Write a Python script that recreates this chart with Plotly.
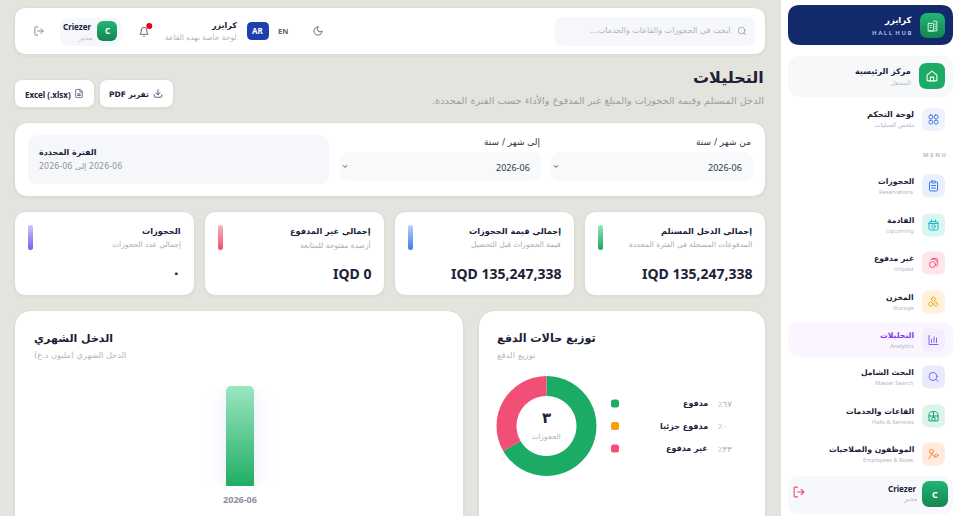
import base64
import re
import plotly.graph_objects as go

W, H = 960, 516
FONT = "Noto Sans, sans-serif"
AR_FONT = "DejaVu Sans, sans-serif"
DARK = "#1b2138"
GRAY = "#a3a8b3"

# ---- data
months = ["2026-06"]
monthly_income_millions = [135.247338]

pay_labels = ["مدفوع", "مدفوع جزئيا", "غير مدفوع"]
pay_counts = [2, 0, 1]
pay_percent_text = ["٦٧٪", "٠٪", "٣٣٪"]
pay_colors = ["#1cab65", "#f59e0b", "#f24f76"]
total_bookings_text = "٣"

kpi_titles = ["إجمالي الدخل المستلم", "إجمالي قيمة الحجوزات", "إجمالي غير المدفوع", "الحجوزات"]
kpi_subs = ["المدفوعات المسجلة في الفترة المحددة", "قيمة الحجوزات قبل التحصيل", "أرصدة مفتوحة للمتابعة", "إجمالي عدد الحجوزات"]
kpi_values = ["IQD 135,247,338", "IQD 135,247,338", "IQD 0", "٠"]
kpi_pills = [("#9be3bd", "#1fa463"), ("#b9d2fb", "#3f7cea"), ("#f9b3c2", "#ee4f70"), ("#cfc2fb", "#7c5cf0")]
kpi_lefts = [585, 395, 205, 15]

nav_titles = ["الحجوزات", "القادمة", "غير مدفوع", "المخزن", "التحليلات", "البحث الشامل", "القاعات والخدمات", "الموظفون والصلاحيات"]
nav_subs = ["Reservations", "Upcoming", "Unpaid", "Storage", "Analytics", "Master Search", "Halls & Services", "Employees & Roles"]
nav_icon_y = [186, 225, 263, 302, 340, 377, 416, 454]
nav_bg = ["#e9effd", "#daf6f3", "#fde5eb", "#fef3d8", "#f3eefd", "#ebe9fe", "#dcf4ec", "#ffebdd"]
nav_fg = ["#3f7cea", "#14b8c4", "#ee4f70", "#eda00f", "#8b5cf6", "#6d6af0", "#14a37f", "#f08a3c"]

ICONS = {
    "home": '<path d="M3 10.5 12 3l9 7.5V20a1 1 0 0 1-1 1H4a1 1 0 0 1-1-1Z"/><path d="M9 21v-7h6v7"/>',
    "search": '<circle cx="11" cy="11" r="8"/><path d="m21 21-4.3-4.3"/>',
    "moon": '<path d="M12 3a6 6 0 0 0 9 9 9 9 0 1 1-9-9Z"/>',
    "bell": '<path d="M6 8a6 6 0 0 1 12 0c0 7 3 9 3 9H3s3-2 3-9"/><path d="M10.3 21a1.94 1.94 0 0 0 3.4 0"/>',
    "logout": '<path d="M9 21H5a2 2 0 0 1-2-2V5a2 2 0 0 1 2-2h4"/><path d="m16 17 5-5-5-5"/><path d="M21 12H9"/>',
    "download": '<path d="M21 15v4a2 2 0 0 1-2 2H5a2 2 0 0 1-2-2v-4"/><path d="m7 10 5 5 5-5"/><path d="M12 15V3"/>',
    "file": '<path d="M14 2H6a2 2 0 0 0-2 2v16a2 2 0 0 0 2 2h12a2 2 0 0 0 2-2V8z"/><path d="M14 2v6h6"/><path d="M8 13h8M8 17h8M12 13v4"/>',
    "grid": '<rect x="3" y="3" width="7.5" height="7.5" rx="3"/><rect x="13.5" y="3" width="7.5" height="7.5" rx="3"/><rect x="3" y="13.5" width="7.5" height="7.5" rx="3"/><rect x="13.5" y="13.5" width="7.5" height="7.5" rx="3"/>',
    "clipboard": '<path d="M8 4H6a2 2 0 0 0-2 2v14a2 2 0 0 0 2 2h12a2 2 0 0 0 2-2V6a2 2 0 0 0-2-2h-2"/><rect x="8" y="2" width="8" height="4" rx="1"/><path d="M8 11h8M8 16h8"/>',
    "calendar": '<rect x="3" y="5" width="18" height="17" rx="3"/><path d="M8 2v4M16 2v4M3 9h18"/><circle cx="12" cy="15" r="3.5"/>',
    "coin": '<circle cx="10" cy="15" r="6"/><path d="M7 4.5a9 9 0 0 1 11 3 9 9 0 0 1 1 10.5"/><path d="M10 3h6a5 5 0 0 1 5 5"/>',
    "boxes": '<path d="M12 2 16.5 6.5 12 11 7.500 6.500Z"/><path d="M7 12l4.500 4.500L7 21l-4.500-4.500Z"/><path d="M17 12l4.500 4.500L17 21l-4.500-4.500Z"/>',
    "bars": '<path d="M3 3v18h18"/><path d="M8 17v-6M13 17V6M18 17v-9"/>',
    "hall": '<path d="M3 21V10a9 7 0 0 1 18 0v11Z"/><path d="M9 21v-6h6v6M12 4v11M3 12h18"/>',
    "roles": '<circle cx="8" cy="7" r="4"/><path d="M3 21 9 11M9 11l6 8"/><circle cx="18" cy="15" r="3"/>',
    "building": '<rect x="4" y="8" width="10" height="14" rx="1"/><path d="M14 4h5a1 1 0 0 1 1 1v17H4M8 12h2M8 16h2M17 9v1M17 13v1M17 17v1"/>',
    "chev": '<path d="m6 9 6 6 6-6"/>',
}


def px(x):
    return x / W


def py(y):
    return 1 - y / H


def rr(x0, y0, x1, y1, r):
    """rounded rectangle path, in paper fractions, from pixel corners"""
    rx, ry = r / W, r / H
    a, b, c, d = px(x0), px(x1), py(y0), py(y1)
    return (f"M{a + rx},{c} L{b - rx},{c} Q{b},{c} {b},{c - ry} L{b},{d + ry} Q{b},{d} {b - rx},{d} "
            f"L{a + rx},{d} Q{a},{d} {a},{d + ry} L{a},{c - ry} Q{a},{c} {a + rx},{c} Z")


shapes, annotations, images = [], [], []


def box(x0, y0, x1, y1, r, fill, line=None):
    shapes.append(dict(type="path", xref="paper", yref="paper", path=rr(x0, y0, x1, y1, r),
                       fillcolor=fill, line=dict(width=1 if line else 0, color=line or fill), layer="below"))


def card(x0, y0, x1, y1, r):
    box(x0 - 2, y0 - 1, x1 + 2, y1 + 3, r + 2, "rgba(120,125,120,0.05)")
    box(x0, y0, x1, y1, r, "#ffffff")


def text(x, y, s, size=9, color=DARK, bold=False, anchor="right"):
    arabic = re.search("[\u0600-\u06ff]", s) is not None
    shown = "\u202b" + s + "\u202c" if arabic else s
    nudge = 1 if anchor == "right" else 0
    annotations.append(dict(xref="paper", yref="paper", x=px(x + nudge), y=py(y), text=shown, showarrow=False,
                            xanchor=anchor, yanchor="middle", borderpad=0,
                            font=dict(family=AR_FONT if arabic else FONT, size=size, color=color,
                                      weight=700 if bold else 400)))


def image(svg, x0, y0, x1, y1):
    src = "data:image/svg+xml;base64," + base64.b64encode(svg.encode()).decode()
    images.append(dict(source=src, xref="paper", yref="paper", x=px(x0), y=py(y0),
                       sizex=(x1 - x0) / W, sizey=(y1 - y0) / H, xanchor="left", yanchor="top",
                       sizing="stretch", layer="above"))


def icon(name, cx, cy, size, color, sw=2):
    svg = (f'<svg xmlns="http://www.w3.org/2000/svg" width="48" height="48" viewBox="0 0 24 24" fill="none" '
           f'stroke="{color}" stroke-width="{sw}" stroke-linecap="round" stroke-linejoin="round">{ICONS[name]}</svg>')
    image(svg, cx - size / 2, cy - size / 2, cx + size / 2, cy + size / 2)


def grad_box(x0, y0, x1, y1, r, top, bottom):
    w, h = x1 - x0, y1 - y0
    svg = (f'<svg xmlns="http://www.w3.org/2000/svg" width="{w*4}" height="{h*4}" viewBox="0 0 {w} {h}">'
           f'<defs><linearGradient id="g" x1="0" y1="0" x2="0" y2="1"><stop offset="0" stop-color="{top}"/>'
           f'<stop offset="1" stop-color="{bottom}"/></linearGradient></defs>'
           f'<rect width="{w}" height="{h}" rx="{r}" fill="url(#g)"/></svg>')
    image(svg, x0, y0, x1, y1)


# ---- sidebar
shapes.append(dict(type="rect", xref="paper", yref="paper", x0=px(781), x1=1, y0=0, y1=1,
                   fillcolor="#ffffff", line=dict(width=0), layer="below"))
box(788, 5, 953, 45, 12, "#122a6b")
grad_box(920, 13, 945, 38, 7, "#22b573", "#14864f")
icon("building", 932.5, 25.5, 13, "#e8fff3", 1.7)
text(912, 20.5, "كرايزر", 8.5, "#ffffff", True)
text(912, 33, "H A L L  H U B", 6, "#a9b8e6", True)

box(788, 56, 953, 97, 13, "#f6f8fa")
box(919, 63, 945, 89, 8, "#1cab65")
icon("home", 932, 76, 13, "#ffffff")
text(911, 71.5, "مركز الرئيسية", 8, DARK, True)
text(911, 82.5, "المشغل", 6, "#b5b9c2")

box(922, 108, 945, 131, 7, "#eef2fd")
icon("grid", 933.5, 119.5, 12, "#3f6fd8")
text(914, 114.5, "لوحة التحكم", 8, DARK, True)
text(914, 125, "ملخص العمليات", 6, "#b5b9c2")
text(947, 155, "M E N U", 6, "#b5b9c2", True)

nav_icons = ["clipboard", "calendar", "coin", "boxes", "bars", "search", "hall", "roles"]
box(788, 322, 953, 357, 12, "#faf5fe")
for i, title in enumerate(nav_titles):
    yc = nav_icon_y[i]
    box(922, yc - 11.5, 945, yc + 11.5, 7, nav_bg[i])
    icon(nav_icons[i], 933.5, yc, 12, nav_fg[i])
    text(914, yc - 4.5, title, 7.7, "#7c3aed" if i == 4 else DARK, True)
    text(914, yc + 5.5, nav_subs[i], 5.7, "#b5b9c2")

box(788, 476, 953, 514, 12, "#f6f8fb")
grad_box(922, 481, 948, 507, 7, "#22b573", "#14864f")
text(935, 494, "C", 9, "#ffffff", True, "center")
text(917, 488, "Criezer", 8, DARK, True)
text(917, 499, "مدير", 7, "#b5b9c2")
icon("logout", 799, 492, 13, "#e8476f")

# ---- top bar
card(15, 8, 765, 54, 12)
box(554, 17, 755, 46, 10, "#f5f7fa")
icon("search", 742, 31, 10, "#9aa0ac")
text(730, 31, "ابحث في الحجوزات والقاعات والخدمات...", 8, "#aeb3bd")
icon("moon", 318, 31, 11, "#5a6072")
text(283, 31, "EN", 7.5, "#5a6072", True, "center")
box(247, 22, 269, 40, 5, "#1e3fae")
text(258, 31, "AR", 8, "#ffffff", True, "center")
text(237, 26, "كرايزر", 8, DARK, True)
text(237, 37.5, "لوحة خاصة بهذه القاعة", 7.5, "#aeb3bd")
icon("bell", 144, 32, 11, "#5a6072")
shapes.append(dict(type="circle", xref="paper", yref="paper", x0=px(146.3), x1=px(152.3), y0=py(23), y1=py(29),
                   fillcolor="#e3001b", line=dict(width=0), layer="above"))
box(60, 18, 122, 46, 9, "#f5f7fa")
grad_box(97, 21, 117, 41, 6, "#22b573", "#14864f")
text(107, 31, "C", 8, "#ffffff", True, "center")
text(92, 27, "Criezer", 8, DARK, True)
text(92, 38, "مدير", 7, "#b5b9c2")
icon("logout", 39, 31, 11, "#7a8090")

# ---- page heading
text(764, 77, "التحليلات", 16, DARK, True)
text(764, 100, "الدخل المستلم وقيمة الحجوزات والمبلغ غير المدفوع والأداء حسب الفترة المحددة.", 9.75, "#9b9e9f")
card(15, 80, 94, 107, 8)
card(100, 80, 173, 107, 8)
text(47.5, 94, "Excel (.xlsx)", 8, DARK, True, "center")
icon("file", 79, 93.5, 10, "#5a6072")
text(129, 94, "تقرير PDF", 7.5, DARK, True, "center")
icon("download", 158, 93.5, 10, "#3a4052")

# ---- filter card
card(15, 123, 765, 196, 14)
box(28, 135, 329, 184, 10, "#f5f7fb")
text(38, 152, "الفترة المحددة", 8, DARK, True, "left")
text(38, 167, "2026-06 إلى 06-2026", 8, "#8f94a0", False, "left")
for right, label in [(751, "من شهر / سنة"), (540, "إلى شهر / سنة")]:
    text(right, 142, label, 9, "#30364a")
for x0, x1 in [(551, 753), (340, 541)]:
    box(x0, 152, x1, 181, 9, "#f7f9fb")
    text(x1 - 11, 167, "2026-06", 9, "#30364a")
    icon("chev", x0 + 5, 166.5, 7, "#30364a", 3)

# ---- KPI cards
for i, left in enumerate(kpi_lefts):
    right = left + 180 if left == 585 else left + 179
    card(left, 212, right, 295, 12)
    grad_box(left + 13, 225, left + 18, 250, 2.5, *kpi_pills[i])
    text(right - 13, 231, kpi_titles[i], 8.2, DARK, True)
    text(right - 13, 245, kpi_subs[i], 7.5, "#a9adb7")
    text(right - 13, 273, kpi_values[i], 14, DARK, True)

# ---- chart cards
card(15, 311, 463, 540, 18)
card(479, 311, 765, 540, 18)
text(33, 338, "الدخل الشهري", 11, DARK, True, "left")
text(33, 355, "الدخل الشهري (مليون د.ع)", 8.2, "#b3b7c0", False, "left")
text(496, 338, "توزيع حالات الدفع", 11.2, DARK, True, "left")
text(496, 355, "توزيع الدفع", 8.5, "#b3b7c0", False, "left")

text(546.5, 418, total_bookings_text, 15, DARK, True, "center")
text(546.5, 437, "الحجوزات", 7, "#a9adb7", False, "center")
legend_y = [403.5, 426, 448.5]
for i, label in enumerate(pay_labels):
    box(611, legend_y[i] - 4, 619, legend_y[i] + 4, 2.5, pay_colors[i])
    text(708, legend_y[i], label, 8, DARK, True)
    text(717, legend_y[i], pay_percent_text[i], 8.5, "#a9adb7", False, "left")

fig = go.Figure()
fig.add_trace(go.Bar(x=months, y=monthly_income_millions, width=28 / 414, marker=dict(color="#5fcb92", line=dict(width=0)),
                     hoverinfo="skip", showlegend=False))
fig.add_trace(go.Pie(labels=pay_labels, values=pay_counts, hole=0.6, sort=False, direction="clockwise", rotation=0,
                     marker=dict(colors=pay_colors, line=dict(width=0)), textinfo="none", showlegend=False,
                     hoverinfo="skip", domain=dict(x=[px(496.5), px(596.5)], y=[py(476), py(376)])))
fig.update_layout(
    width=W, height=H, margin=dict(l=0, r=0, t=0, b=0), paper_bgcolor="#e4e4df", plot_bgcolor="rgba(0,0,0,0)",
    barcornerradius=5, showlegend=False, font=dict(family=FONT),
    xaxis=dict(domain=[px(33), px(447)], type="category", showgrid=False, zeroline=False, showline=False,
               ticks="", tickfont=dict(family=FONT, size=9, color="#8b909c", weight=700), ticklabelstandoff=7),
    yaxis=dict(domain=[py(486), py(386)], range=[0, monthly_income_millions[0]], visible=False, fixedrange=True),
    shapes=shapes, annotations=annotations, images=images,
)

post = """
document.body.style.margin='0';
document.documentElement.style.overflow='hidden';
var gd=document.getElementById('{plot_id}');
var svg=gd.querySelector('svg.main-svg');
var ns='http://www.w3.org/2000/svg';
var defs=document.createElementNS(ns,'defs');
var lg=document.createElementNS(ns,'linearGradient');
lg.setAttribute('id','barGrad');lg.setAttribute('x1','0');lg.setAttribute('y1','0');lg.setAttribute('x2','0');lg.setAttribute('y2','1');
[['0','#9be6c2'],['1','#1fae62']].forEach(function(s){var st=document.createElementNS(ns,'stop');st.setAttribute('offset',s[0]);st.setAttribute('stop-color',s[1]);lg.appendChild(st);});
defs.appendChild(lg);svg.insertBefore(defs,svg.firstChild);
gd.querySelectorAll('.barlayer .point path').forEach(function(p){p.style.fill='url(#barGrad)';p.style.filter='drop-shadow(0 4px 10px rgba(90,120,220,0.14))';});
"""
fig.write_html("out.html", post_script=post, config=dict(displayModeBar=False, responsive=False))
